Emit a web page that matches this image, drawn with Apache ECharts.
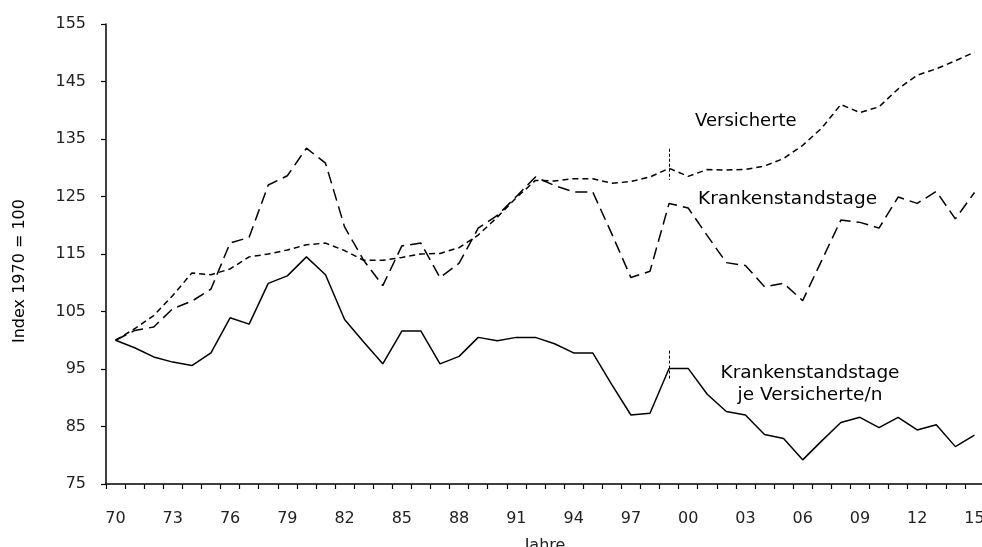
<!DOCTYPE html>
<html>
<head>
<meta charset="utf-8">
<script src="https://cdn.jsdelivr.net/npm/echarts@6/dist/echarts.min.js"></script>
<style>html,body{margin:0;padding:0;background:#fff;}#c{width:982px;height:547px;}</style>
</head>
<body>
<div id="c"></div>
<script>
const years = ['70','71','72','73','74','75','76','77','78','79','80','81','82','83','84','85','86','87','88','89',
  '90','91','92','93','94','95','96','97','98','99','00','01','02','03','04','05','06','07','08','09',
  '10','11','12','13','14','15'];
const versicherte = [100,102.0,104.3,107.8,111.7,111.4,112.4,114.5,115.0,115.7,116.6,116.9,115.6,113.9,113.9,
  114.4,115.0,115.1,116.1,118.3,121.4,124.8,127.8,127.7,128.1,128.1,127.3,127.6,128.4,129.9,
  128.5,129.7,129.6,129.7,130.3,131.6,133.9,136.9,141.0,139.6,140.6,143.7,146.1,147.2,148.6,150.1];
const krankenstandstage = [100,101.7,102.3,105.5,106.8,108.9,116.9,117.9,127.0,128.6,133.4,130.8,119.7,113.9,109.5,
  116.4,116.9,110.9,113.4,119.5,121.7,125.0,128.4,126.9,125.8,125.8,118.5,110.9,112.0,123.8,
  123.0,118.2,113.5,113.0,109.3,109.9,106.9,113.9,120.9,120.5,119.5,124.9,123.8,125.9,121.1,125.7];
const jeVersicherte = [100,98.7,97.1,96.2,95.6,97.8,103.9,102.8,109.9,111.2,114.5,111.4,103.6,99.7,95.9,
  101.6,101.6,95.9,97.2,100.5,99.9,100.5,100.5,99.4,97.8,97.8,92.3,87.0,87.3,95.1,
  95.1,90.6,87.6,87.0,83.6,82.9,79.2,82.5,85.7,86.6,84.8,86.6,84.4,85.3,81.5,83.5];
const breakYear = '99';
const versBreak = [133.3, 127.9];
const jeBreak = [98.2, 93.0];

const chart = echarts.init(document.getElementById('c'), null, {renderer:'canvas'});
const F = 'DejaVu Sans';
const lab = {fontFamily:F, fontSize:18.5, color:'#222'};
chart.setOption({
  animation:false,
  backgroundColor:'#fff',
  grid:{left:106, top:24, width:878, height:460, containLabel:false, outerBoundsMode:'none'},
  xAxis:{
    type:'category', data:years, boundaryGap:true,
    name:'Jahre', nameLocation:'middle', nameGap:54,
    nameTextStyle:{fontFamily:F, fontSize:16, color:'#222'},
    axisLine:{lineStyle:{color:'#000', width:1.5}},
    axisTick:{show:true, inside:false, length:5, interval:0, lineStyle:{color:'#000', width:1.2}},
    axisLabel:{interval:2, margin:27, fontFamily:F, fontSize:16, color:'#222'},
    splitLine:{show:false}
  },
  yAxis:{
    type:'value', min:75, max:155, interval:10,
    axisLine:{show:true, lineStyle:{color:'#000', width:1.5}},
    axisTick:{show:true, length:5, lineStyle:{color:'#000', width:1.2}},
    axisLabel:{margin:20, fontFamily:F, fontSize:16, color:'#222'},
    splitLine:{show:false}
  },
  series:[
    {name:'Versicherte', type:'line', data:versicherte, symbol:'none',
     lineStyle:{color:'#000', width:1.5, type:[6,4]},
     markLine:{silent:true, symbol:'none', label:{show:false},
       lineStyle:{color:'#000', width:1, type:[3,2]},
       data:[[{coord:[breakYear, versBreak[0]]},{coord:[breakYear, versBreak[1]]}]]}},
    {name:'Krankenstandstage', type:'line', data:krankenstandstage, symbol:'none',
     lineStyle:{color:'#000', width:1.5, type:[12,6]}},
    {name:'Krankenstandstage je Versicherte/n', type:'line', data:jeVersicherte, symbol:'none',
     lineStyle:{color:'#000', width:1.5, type:'solid'},
     markLine:{silent:true, symbol:'none', label:{show:false},
       lineStyle:{color:'#000', width:1, type:[3,2]},
       data:[[{coord:[breakYear, jeBreak[0]]},{coord:[breakYear, jeBreak[1]]}]]}}
  ],
  graphic:[
    {type:'text', left:695, top:112, style:Object.assign({}, lab, {text:'Versicherte', fontSize:18})},
    {type:'text', left:698, top:190, style:Object.assign({}, lab, {text:'Krankenstandstage'})},
    {type:'text', x:810, y:362, style:Object.assign({}, lab, {text:'Krankenstandstage\nje Versicherte/n', align:'center', lineHeight:22})},
    {type:'text', x:20, y:271, rotation:Math.PI/2,
     style:{text:'Index 1970 = 100', fontFamily:F, fontSize:16, color:'#222', align:'center', verticalAlign:'middle'}}
  ]
});
</script>
</body>
</html>
